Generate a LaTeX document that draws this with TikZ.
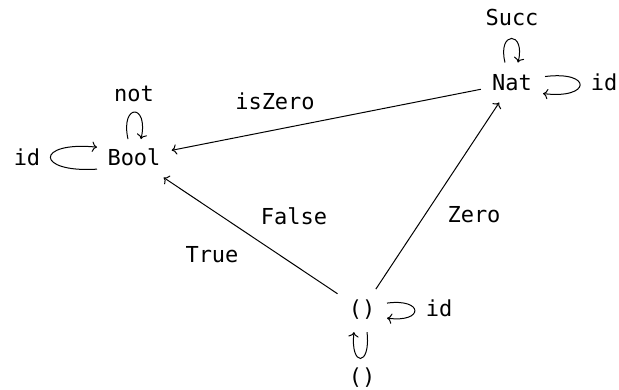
\documentclass[tikz,border=0pt]{standalone}
\usepackage{fontspec}
\setmainfont{DejaVu Sans Mono}
\usetikzlibrary{arrows.meta}
\begin{document}
\begin{tikzpicture}[x=1pt,y=1pt,
  every node/.style={font=\fontsize{22}{26}\selectfont},
  obj/.style={anchor=base, inner sep=11pt},
  lbl/.style={anchor=base, inner sep=0pt},
  arr/.style={line width=1pt, -{To[scale=1.3]}}]
\useasboundingbox (0,0) rectangle (619,-390);
% objects
\node[obj] (bool) at (134,-166) {Bool};
\node[obj] (nat) at (512,-91) {Nat};
\node[obj] (unit) at (362,-317) {()};
% labels
\node[lbl] (lnot) at (134,-102) {not};
\node[lbl] (lsucc) at (512,-26) {Succ};
\node[lbl] (lidb) at (27,-166) {id};
\node[lbl] (lidn) at (604,-91) {id};
\node[lbl] (lidu) at (439,-317) {id};
\node[lbl] (liszero) at (275,-110) {isZero};
\node[lbl] (lfalse) at (294,-225) {False};
\node[lbl] (ltrue) at (212,-263) {True};
\node[lbl] (lzero) at (474,-223) {Zero};
\node[lbl] (lunit) at (362,-384) {()};
% edges
\draw[arr] (nat) -- (bool);
\draw[arr] (unit) -- (bool);
\draw[arr] (unit) -- (nat);
% loops
\draw[arr] ([shift={(-6,18.6)}]bool.center) .. controls +(-8,36) and +(8,36) .. ([shift={(7,18.6)}]bool.center);
\draw[arr] ([shift={(-37,-11.4)}]bool.center) .. controls +(-62,-4) and +(-62,6) .. ([shift={(-37,10.6)}]bool.center);
\draw[arr] ([shift={(-7,20.6)}]nat.center) .. controls +(-8,32) and +(8,32) .. ([shift={(6,20.6)}]nat.center);
\draw[arr] ([shift={(33,6.6)}]nat.center) .. controls +(48,6) and +(48,-6) .. ([shift={(31,-10.4)}]nat.center);
\draw[arr] ([shift={(25,7)}]unit.center) .. controls +(37,5) and +(37,-5) .. ([shift={(25,-8)}]unit.center);
\draw[arr] ([shift={(5,-22)}]unit.center) .. controls +(4,-35) and +(-4,-35) .. ([shift={(-8,-22)}]unit.center);
\end{tikzpicture}
\end{document}
